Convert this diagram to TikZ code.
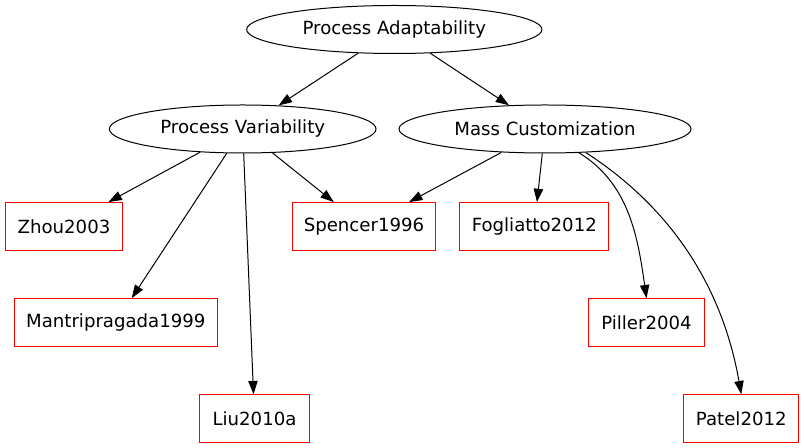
\documentclass[tikz,border=0pt]{standalone}
\usepackage{fontspec}
\setmainfont{DejaVu Sans}
\usetikzlibrary{shapes.geometric,arrows.meta}
\tikzset{
  ell/.style={ellipse,draw=black,line width=0.75pt,inner sep=0pt,minimum height=36pt},
  ref/.style={rectangle,draw=red,line width=0.75pt,inner sep=0pt,minimum height=35.6pt},
  edge/.style={draw=black,line width=0.75pt,-{Triangle[length=10pt,width=7pt]}},
  every node/.style={font=\fontsize{13.6pt}{16pt}\selectfont}
}
\begin{document}
\begin{tikzpicture}[x=0.75pt,y=-0.75pt]
\useasboundingbox[fill=white] (0,0) rectangle (804,448);
\node[ell,minimum width=221.5pt] (pa) at (394.3,29.5) {Process Adaptability};
\node[ell,minimum width=200pt] (pv) at (242.7,129) {Process Variability};
\node[ell,minimum width=219pt] (mc) at (545,129) {Mass Customization};
\node[ref,minimum width=88.3pt] (zhou) at (64,226.3) {Zhou2003};
\node[ref,minimum width=107.8pt] (spencer) at (364,226.3) {Spencer1996};
\node[ref,minimum width=112pt] (fog) at (534.3,226.3) {Fogliatto2012};
\node[ref,minimum width=152.3pt] (mantri) at (115.8,322.5) {Mantripragada1999};
\node[ref,minimum width=86.3pt] (piller) at (646.5,322.5) {Piller2004};
\node[ref,minimum width=82.3pt] (liu) at (254.5,418.5) {Liu2010a};
\node[ref,minimum width=86pt] (patel) at (741.3,418.5) {Patel2012};
\draw[edge] (pa) -- (pv);
\draw[edge] (pa) -- (mc);
\draw[edge] (pv) -- (zhou);
\draw[edge] (pv) -- (mantri);
\draw[edge] (pv) -- (liu);
\draw[edge] (pv) -- (spencer);
\draw[edge] (mc) -- (spencer);
\draw[edge] (mc) -- (fog);
\draw[edge] (mc.-35) .. controls (629.6,183.6) and (638,238.6) .. (piller.north);
\draw[edge] (mc.-30) .. controls (670,207) and (722,285) .. (patel.north);
\end{tikzpicture}
\end{document}
